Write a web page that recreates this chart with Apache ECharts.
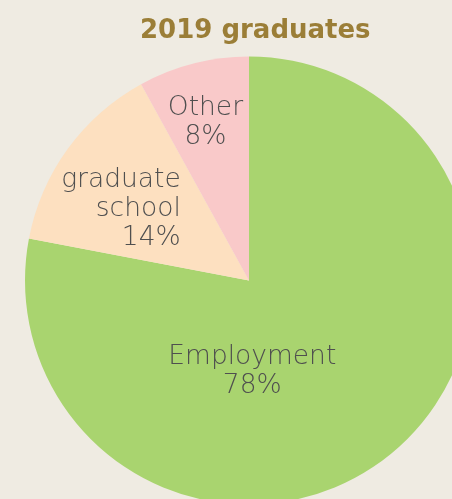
<!DOCTYPE html>
<html>
<head>
<meta charset="utf-8">
<script src="https://cdn.jsdelivr.net/npm/echarts@6/dist/echarts.min.js"></script>
<style>
  html, body { margin: 0; padding: 0; background: #efebe2; }
  #chart { width: 452px; height: 499px; }
</style>
</head>
<body>
<div id="chart"></div>
<script>
// Destinations of the 2019 graduating class (share, %)
const categories = ['Employment', 'graduate school', 'Other'];
const shares = [78, 14, 8];

// Slice colours and label nudges, in the same order as the categories
const sliceColors = ['#a9d46f', '#fde0c0', '#f9c9c9'];
const labelAlign = ['center', 'right', 'center'];
const labelShift = [[-70, 3], [-35, -4], [-15, -47]];

const chart = echarts.init(document.getElementById('chart'), null, { renderer: 'canvas' });

const data = categories.map((name, i) => ({
  name: name,
  value: shares[i],
  itemStyle: { color: sliceColors[i] },
  label: {
    rich: {
      t: { align: labelAlign[i], fontSize: 26.5, lineHeight: 29, color: '#4f4f4f',
           fontFamily: 'DejaVu Sans', fontWeight: 300 }
    }
  }
}));

chart.setOption({
  backgroundColor: '#efebe2',
  animation: false,
  title: {
    text: '2019 graduates',
    left: 135,
    top: 13,
    textStyle: { color: '#9b7e37', fontSize: 26, fontWeight: 'bold', fontFamily: 'DejaVu Sans' }
  },
  series: [{
    type: 'pie',
    center: [249, 280.5],
    radius: 224,
    startAngle: 90,
    clockwise: true,
    silent: true,
    itemStyle: { borderWidth: 0 },
    label: {
      position: 'inside',
      formatter: (p) => p.name.split(' ').concat([p.value + '%'])
        .map((s) => '{t|' + s + '}').join('\n')
    },
    labelLine: { show: false },
    labelLayout: (p) => ({ dx: labelShift[p.dataIndex][0], dy: labelShift[p.dataIndex][1] }),
    data: data
  }]
});
</script>
</body>
</html>
